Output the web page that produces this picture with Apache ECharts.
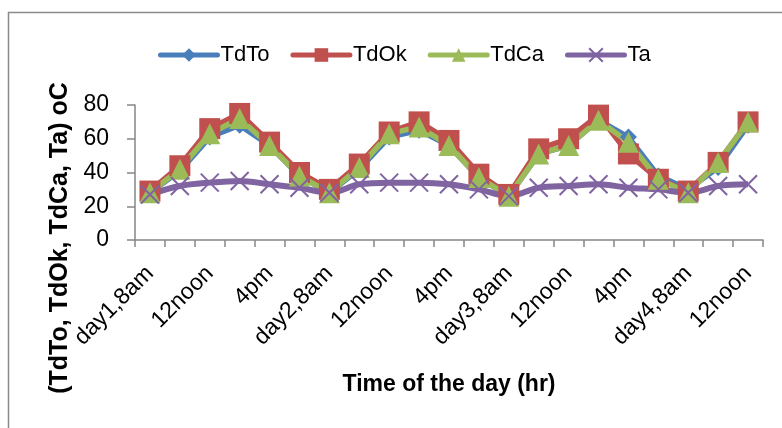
<!DOCTYPE html>
<html>
<head>
<meta charset="utf-8">
<script src="https://cdn.jsdelivr.net/npm/echarts@6/dist/echarts.min.js"></script>
<style>
html,body{margin:0;padding:0;background:#fff;}
#chart{width:782px;height:428px;}
</style>
</head>
<body>
<div id="chart"></div>
<script>
var categories = ['day1,8am','10am','12noon','2pm','4pm','6pm',
  'day2,8am','10am','12noon','2pm','4pm','6pm',
  'day3,8am','10am','12noon','2pm','4pm','6pm',
  'day4,8am','10am','12noon'];
var tdTo = [28, 41, 61, 68, 56, 38, 28, 42, 61, 65, 56, 37, 26, 51, 56, 71, 61, 38, 30, 43, 68];
var tdOk = [29, 44, 66, 75, 58, 40, 30, 45, 64, 70, 59, 39, 27, 54, 60, 74, 51, 36, 29, 46, 70];
var tdCa = [28, 42, 63, 72, 56, 38, 28, 43, 63, 67, 56, 37, 26, 51, 56, 71, 58, 36, 28, 46, 70];
var ta   = [27, 32, 34, 35, 33, 31, 28, 33, 34, 34, 33, 30, 26, 31, 32, 33, 31, 30, 28, 32, 33];
var yTicks = {min: 0, max: 80, interval: 20};

var FONT = 'Liberation Sans';
var chart = echarts.init(document.getElementById('chart'), null, {renderer: 'canvas'});
var axisGray = '#868686';
var option = {
  animation: false,
  backgroundColor: '#fff',
  textStyle: {fontFamily: FONT},
  graphic: [
    {type: 'rect', shape: {x: 8.5, y: 12.5, width: 900, height: 600},
     style: {fill: 'none', stroke: '#8a8a8a', lineWidth: 1.5}, silent: true},
    {type: 'text', x: 60, y: 238, rotation: Math.PI / 2,
     style: {text: '(TdTo, TdOk, TdCa, Ta) oC', fontFamily: FONT, fontWeight: 'bold',
             fontSize: 25, fill: '#000', align: 'center', verticalAlign: 'middle'}}
  ],
  legend: {
    left: 153, top: 39,
    itemWidth: 57, itemHeight: 17, itemGap: 21,
    lineStyle: {width: 5, cap: 'round'},
    textStyle: {fontFamily: FONT, fontSize: 22, color: '#000', padding: [0, 0, 0, -2]},
    data: ['TdTo', 'TdOk', 'TdCa', 'Ta']
  },
  grid: {left: 135, right: 19, top: 105, bottom: 188},
  xAxis: {
    type: 'category',
    data: categories,
    boundaryGap: true,
    name: 'Time of the day (hr)',
    nameLocation: 'middle',
    nameGap: 133,
    nameTextStyle: {fontFamily: FONT, fontWeight: 'bold', fontSize: 23, color: '#000'},
    axisLine: {lineStyle: {color: axisGray, width: 1.5}},
    axisTick: {show: true, interval: 0, length: 7, lineStyle: {color: axisGray, width: 1.5}},
    axisLabel: {interval: 1, rotate: 45, fontSize: 23, color: '#000', fontFamily: FONT, margin: 30},
    splitLine: {show: false}
  },
  yAxis: {
    type: 'value',
    min: yTicks.min, max: yTicks.max, interval: yTicks.interval,
    axisLine: {show: true, lineStyle: {color: axisGray, width: 1.5}},
    axisTick: {show: true, length: 8, lineStyle: {color: axisGray, width: 1.5}},
    axisLabel: {fontSize: 23, color: '#000', fontFamily: FONT, margin: 26},
    splitLine: {show: false}
  },
  series: [
    {name: 'TdTo', type: 'line', data: tdTo, symbol: 'diamond', symbolSize: 17, showAllSymbol: true,
     lineStyle: {color: '#4A7EBB', width: 5.5}, itemStyle: {color: '#4A7EBB'}},
    {name: 'TdOk', type: 'line', data: tdOk, symbol: 'rect', symbolSize: 21, showAllSymbol: true,
     lineStyle: {color: '#C0504D', width: 5.5}, itemStyle: {color: '#C0504D'}},
    {name: 'TdCa', type: 'line', data: tdCa, symbol: 'triangle', symbolSize: 21, showAllSymbol: true,
     lineStyle: {color: '#9BBB59', width: 5.5}, itemStyle: {color: '#9BBB59'}},
    {name: 'Ta', type: 'line', data: ta, smooth: 0.35, showAllSymbol: true,
     symbol: 'path://M0,0L10,10M10,0L0,10', symbolSize: 18,
     lineStyle: {color: '#8064A2', width: 6},
     itemStyle: {color: '#8064A2', borderColor: '#8064A2', borderWidth: 2}}
  ]
};
chart.setOption(option);
</script>
</body>
</html>
